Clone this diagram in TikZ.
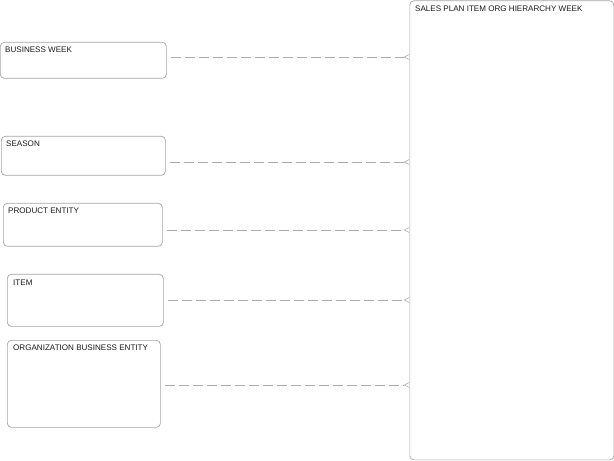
\documentclass[tikz,border=0pt]{standalone}
\usepackage{fontspec}
\setmainfont{Liberation Sans}
\usepackage{xcolor}
\usepackage{tikz}
\usetikzlibrary{arrows.meta,positioning}
\definecolor{boxdraw}{HTML}{A6A6A6}
\definecolor{linkdraw}{HTML}{ABABAB}
\definecolor{textcolor}{HTML}{1A1A1A}
\tikzset{
  entity/.style={
    rectangle,
    rounded corners=4bp,
    draw=boxdraw,
    line width=0.7bp,
    anchor=north west,
    inner sep=0pt
  },
  entity title/.style={
    anchor=north west,
    inner sep=0pt,
    font=\fontsize{8.1}{9}\selectfont,
    text=textcolor
  },
  relation/.style={
    draw=linkdraw,
    line width=0.7bp,
    dash pattern=on 10bp off 4bp,
    shorten <=4bp,
    -{Straight Barb[reversed,length=5bp,width=5bp,line width=0.6bp]}
  }
}

\begin{document}
\begin{tikzpicture}[x=1bp,y=-1bp]
  \useasboundingbox (0,0) rectangle (614,461);

  \node[entity,minimum width=166bp,minimum height=36bp] (week) at (0,42) {};
  \node[entity,minimum width=164bp,minimum height=39bp] (season) at (1,136) {};
  \node[entity,minimum width=159bp,minimum height=43bp] (product) at (3,203) {};
  \node[entity,minimum width=156bp,minimum height=52bp] (item) at (7,274) {};
  \node[entity,minimum width=153bp,minimum height=87bp] (org) at (7,340) {};
  \node[entity,minimum width=204bp,minimum height=459bp] (plan) at (409.5,0.5) {};

  \node[entity title] (week-t) at (5,47) {BUSINESS WEEK};
  \node[entity title] (season-t) at (6,141) {SEASON};
  \node[entity title] (product-t) at (8,208) {PRODUCT ENTITY};
  \node[entity title] (item-t) at (13,280) {ITEM};
  \node[entity title] (org-t) at (13,345) {ORGANIZATION BUSINESS ENTITY};
  \node[entity title] (plan-t) at (415,6) {SALES PLAN ITEM ORG HIERARCHY WEEK};

  \coordinate (p-1) at (409.5,57);
  \coordinate (p-2) at (409.5,162);
  \coordinate (p-3) at (409.5,230);
  \coordinate (p-4) at (409.5,300);
  \coordinate (p-5) at (409.5,385);

  \draw[relation] (week.east |- p-1) -- (p-1);
  \draw[relation] (season.east |- p-2) -- (p-2);
  \draw[relation] (product.east |- p-3) -- (p-3);
  \draw[relation] (item.east |- p-4) -- (p-4);
  \draw[relation] (org.east |- p-5) -- (p-5);
\end{tikzpicture}
\end{document}
